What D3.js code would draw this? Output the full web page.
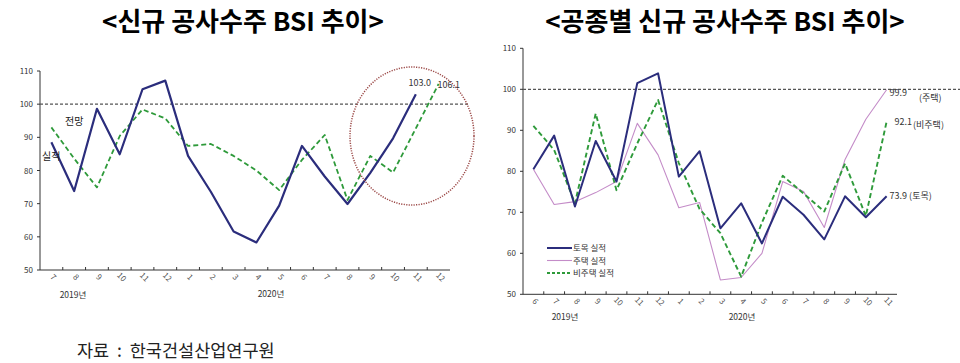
<!DOCTYPE html>
<html>
<head>
<meta charset="utf-8">
<script src="https://cdn.jsdelivr.net/npm/d3@7"></script>
<style>
  body { margin: 0; background: #fff; }
  text { font-family: "Noto Sans CJK KR", "Noto Sans", sans-serif; }
</style>
</head>
<body>
<div id="wrapper"></div>
<script>
// left chart: 2019.7 ~ 2020.12
const leftMonths = ["7","8","9","10","11","12","1","2","3","4","5","6","7","8","9","10","11","12"];
const leftActual = [88.5, 73.8, 98.6, 84.9, 104.5, 107.1, 84.4, 73.6, 61.6, 58.3, 69.4, 87.4, 78.2, 69.9, 79.3, 89.7, 103.0, null];
const leftForecast = [93.0, 83.6, 74.9, 90.4, 98.4, 95.7, 87.4, 88.0, 84.4, 80.0, 74.1, 83.2, 90.7, 71.1, 84.4, 79.4, 92.7, 106.1];

// right chart: 2019.6 ~ 2020.11
const rightMonths = ["6","7","8","9","10","11","12","1","2","3","4","5","6","7","8","9","10","11"];
const civil = [80.5, 88.7, 71.4, 87.4, 77.5, 101.5, 103.9, 78.7, 84.9, 66.1, 72.2, 62.4, 73.8, 69.4, 63.4, 73.9, 68.8, 73.9];
const housing = [80.5, 71.9, 72.6, 74.8, 77.5, 91.7, 84.0, 71.1, 72.4, 53.5, 54.1, 60.0, 77.5, 75.1, 66.3, 82.9, 92.7, 99.9];
const nonHousing = [91.1, 85.2, 72.2, 94.1, 75.4, 86.8, 97.4, 82.0, 70.8, 64.9, 54.3, 67.5, 78.9, 74.6, 70.2, 81.9, 69.1, 92.1];

const yTicks = [50, 60, 70, 80, 90, 100, 110];

const navy = "#2b2d7c";
const green = "#2e9a3a";
const pink = "#c48cc8";
const axisColor = "#333";

const width = 960, height = 363;

const svg = d3.select("#wrapper")
    .append("svg")
    .attr("width", width)
    .attr("height", height);

// titles
svg.append("text")
    .attr("x", 243).attr("y", 31)
    .attr("text-anchor", "middle")
    .attr("font-size", 26).attr("font-weight", 700)
    .text("<신규 공사수주 BSI 추이>");
svg.append("text")
    .attr("x", 725).attr("y", 31)
    .attr("text-anchor", "middle")
    .attr("font-size", 26).attr("font-weight", 700)
    .text("<공종별 신규 공사수주 BSI 추이>");

svg.append("text")
    .attr("x", 77).attr("y", 357)
    .attr("font-size", 17.5)
    .attr("fill", "#222")
    .attr("xml:space", "preserve")
    .text("자료  :  한국건설산업연구원");

function drawAxes(g, x, y, refEnd) {
    const [x0, x1] = x.range();
    const [yBottom, yTop] = y.range();

    // y axis
    g.append("line")
        .attr("x1", x0).attr("x2", x0)
        .attr("y1", yBottom).attr("y2", yTop)
        .attr("stroke", axisColor);
    yTicks.forEach(t => {
        g.append("line")
            .attr("x1", x0 - 3).attr("x2", x0)
            .attr("y1", y(t)).attr("y2", y(t))
            .attr("stroke", axisColor);
        g.append("text")
            .attr("x", x0 - 7).attr("y", y(t) + 3)
            .attr("text-anchor", "end")
            .attr("font-size", 8)
            .attr("fill", "#333")
            .text(t);
    });

    // x axis
    g.append("line")
        .attr("x1", x0).attr("x2", x1)
        .attr("y1", yBottom).attr("y2", yBottom)
        .attr("stroke", axisColor);
    x.domain().forEach((d, i) => {
        if (i > 0) {
            g.append("line")
                .attr("x1", x(d)).attr("x2", x(d))
                .attr("y1", yBottom).attr("y2", yBottom - 3)
                .attr("stroke", axisColor);
        }
        const cx = x(d) + x.bandwidth() / 2;
        g.append("text")
            .attr("transform", `translate(${cx},${yBottom + 9}) rotate(45)`)
            .attr("text-anchor", "middle")
            .attr("font-size", 8)
            .attr("fill", "#555")
            .text(x.domain()[i].split("_")[1]);
    });

    // 100 reference
    g.append("line")
        .attr("x1", x0).attr("x2", refEnd)
        .attr("y1", y(100)).attr("y2", y(100))
        .attr("stroke", "#555")
        .attr("stroke-width", 1.2)
        .attr("stroke-dasharray", "3,2");
}

function drawSeries(g, x, y, values, color, w, dash) {
    const cats = x.domain();
    const line = d3.line()
        .defined(d => d != null)
        .x((d, i) => x(cats[i]) + x.bandwidth() / 2)
        .y(d => y(d));
    g.append("path")
        .datum(values)
        .attr("d", line)
        .attr("fill", "none")
        .attr("stroke", color)
        .attr("stroke-width", w)
        .attr("stroke-dasharray", dash || null)
        .attr("stroke-linejoin", "round");
}

// ---------- left chart ----------
const xL = d3.scaleBand()
    .domain(leftMonths.map((m, i) => i + "_" + m))
    .range([40, 450]);
const yL = d3.scaleLinear().domain([50, 110]).range([270, 71]);
const gL = svg.append("g");
drawAxes(gL, xL, yL, 470);
drawSeries(gL, xL, yL, leftForecast, green, 1.8, "5,3");
drawSeries(gL, xL, yL, leftActual, navy, 2.2);

const cxL = i => xL(xL.domain()[i]) + xL.bandwidth() / 2;
gL.append("text").attr("x", 65).attr("y", 125).attr("font-size", 10).attr("fill", "#222").text("전망");
gL.append("text").attr("x", 42).attr("y", 160).attr("font-size", 10).attr("fill", "#222").text("실적");
gL.append("text").attr("x", cxL(16) + 4).attr("y", yL(103.0) - 8)
    .attr("text-anchor", "middle").attr("font-size", 9).attr("fill", "#333").text("103.0");
gL.append("text").attr("x", cxL(17) - 1).attr("y", yL(106.1) + 4)
    .attr("font-size", 9).attr("fill", "#333").text("106.1");
gL.append("ellipse")
    .attr("cx", 412).attr("cy", 136).attr("rx", 62).attr("ry", 69)
    .attr("fill", "none")
    .attr("stroke", "#9c4a48")
    .attr("stroke-width", 1.5)
    .attr("stroke-dasharray", "1.2,1.3");
gL.append("text").attr("x", 73).attr("y", 298).attr("text-anchor", "middle")
    .attr("font-size", 8.5).attr("fill", "#333").text("2019년");
gL.append("text").attr("x", 271).attr("y", 297).attr("text-anchor", "middle")
    .attr("font-size", 8.5).attr("fill", "#333").text("2020년");

// ---------- right chart ----------
const xR = d3.scaleBand()
    .domain(rightMonths.map((m, i) => i + "_" + m))
    .range([523, 897]);
const yR = d3.scaleLinear().domain([50, 110]).range([294.3, 48.3]);
const gR = svg.append("g");
drawAxes(gR, xR, yR, 960);
drawSeries(gR, xR, yR, housing, pink, 1.1);
drawSeries(gR, xR, yR, nonHousing, green, 1.9, "5,3");
drawSeries(gR, xR, yR, civil, navy, 2);

const cxR = i => xR(xR.domain()[i]) + xR.bandwidth() / 2;
const lastR = rightMonths.length - 1;
gR.append("text").attr("x", cxR(lastR) + 3).attr("y", yR(99.9) + 6)
    .attr("font-size", 9).attr("fill", "#333").text("99.9");
gR.append("text").attr("x", 919).attr("y", yR(99.9) + 11)
    .attr("font-size", 9).attr("fill", "#333").text("(주택)");
gR.append("text").attr("x", cxR(lastR) + 8).attr("y", yR(92.1) + 3)
    .attr("font-size", 9).attr("fill", "#333").text("92.1");
gR.append("text").attr("x", 913).attr("y", yR(92.1) + 6)
    .attr("font-size", 9).attr("fill", "#333").text("(비주택)");
gR.append("text").attr("x", cxR(lastR) + 3).attr("y", yR(73.9) + 3)
    .attr("font-size", 9).attr("fill", "#333").text("73.9 (토목)");

const legend = [
    {name: "토목 실적", color: navy, w: 2, dash: null},
    {name: "주택 실적", color: pink, w: 1.1, dash: null},
    {name: "비주택 실적", color: green, w: 1.9, dash: "3,2"}
];
legend.forEach((d, i) => {
    const ly = 248 + i * 12.5;
    gR.append("line")
        .attr("x1", 547).attr("x2", 572)
        .attr("y1", ly).attr("y2", ly)
        .attr("stroke", d.color)
        .attr("stroke-width", d.w)
        .attr("stroke-dasharray", d.dash);
    gR.append("text").attr("x", 573).attr("y", ly + 3)
        .attr("font-size", 8.5).attr("fill", "#333").text(d.name);
});
gR.append("text").attr("x", 565).attr("y", 320).attr("text-anchor", "middle")
    .attr("font-size", 8.5).attr("fill", "#333").text("2019년");
gR.append("text").attr("x", 742).attr("y", 320).attr("text-anchor", "middle")
    .attr("font-size", 8.5).attr("fill", "#333").text("2020년");
</script>
</body>
</html>
